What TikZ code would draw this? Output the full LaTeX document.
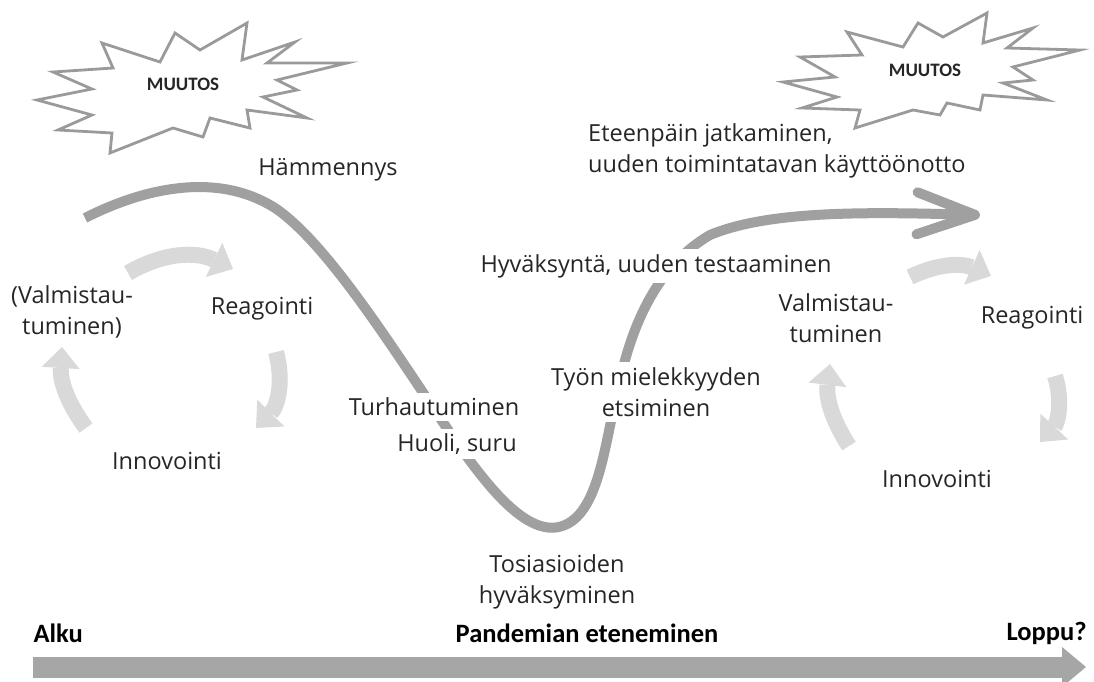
\documentclass[tikz,border=0pt]{standalone}
\usepackage{fontspec}
\setmainfont{Open Sans}
\newfontfamily\barfont{Carlito}
\usetikzlibrary{arrows.meta}
\definecolor{curvegray}{HTML}{A0A0A0}
\definecolor{cyclegray}{HTML}{D9D9D9}
\definecolor{bargray}{HTML}{A6A6A6}
\definecolor{burstgray}{HTML}{9A9A9A}
\definecolor{txt}{HTML}{262626}

\begin{document}
\begin{tikzpicture}[x=1pt,y=-1pt,
  lbl/.style={text=txt,font=\fontsize{23.5}{31}\selectfont,align=center,inner sep=2pt},
  cover/.style={lbl,fill=white,inner sep=5pt},
  cyc/.style={line width=16pt,draw=cyclegray,-{Triangle[length=21pt,width=38pt,line width=0pt]}},
  curve/.style={draw=curvegray,line width=10pt,-{Straight Barb[length=58pt,width=42pt,round]}},
  burst/.style={draw=burstgray,line width=2.8pt,fill=white,line join=miter},
  bang/.style={text=txt,font=\barfont\bfseries\fontsize{19}{22}\selectfont},
  bar/.style={text=black,font=\barfont\bfseries\fontsize{26.5}{30}\selectfont}]
  \useasboundingbox (0,0) rectangle (1094,682);

  \draw[burst] (37,100) -- (92,89) -- (53,72) -- (113,68) -- (102,43) -- (160,62)
    -- (175,33) -- (200,50) -- (247,23) -- (242,60) -- (295,42) -- (267,63)
    -- (347,63) -- (277,80) -- (297,90) -- (263,97) -- (307,118) -- (247,110)
    -- (250,128) -- (210,118) -- (203,137) -- (173,128) -- (110,153) -- (112,133)
    -- (58,130) -- (92,115) -- cycle;
  \node[bang] (muutos1) at (183,84) {MUUTOS};

  \draw[burst] (783,82) -- (835,77) -- (800,57) -- (862,55) -- (847,32) -- (903,47)
    -- (918,23) -- (943,37) -- (987,13) -- (983,43) -- (1033,28) -- (1007,48)
    -- (1080,50) -- (1013,67) -- (1033,80) -- (1003,83) -- (1047,100) -- (983,95)
    -- (980,110) -- (947,103) -- (940,115) -- (913,110) -- (855,128) -- (860,110)
    -- (802,108) -- (837,97) -- cycle;
  \node[bang] (muutos2) at (925,70) {MUUTOS};

  \coordinate (a1) at (128,273);
  \coordinate (b1) at (233,269);
  \coordinate (a2) at (276,352);
  \coordinate (b2) at (256,428);
  \coordinate (a3) at (86,428);
  \coordinate (b3) at (62,347);
  \draw[cyc] (a1) to[bend left=28] (b1);
  \draw[cyc] (a2) to[bend left=30] (b2);
  \draw[cyc] (a3) to[bend left=20] (b3);

  \coordinate (d1) at (910,277);
  \coordinate (e1) at (991,276);
  \coordinate (d2) at (1055,376);
  \coordinate (e2) at (1040,442);
  \coordinate (d3) at (849,446);
  \coordinate (e3) at (830,364);
  \draw[cyc] (d1) to[bend left=25] (e1);
  \draw[cyc] (d2) to[bend left=30] (e2);
  \draw[cyc] (d3) to[bend left=20] (e3);

  \draw[curve] (85,218) .. controls (140,190) and (215,170) .. (275,208)
    .. controls (330,245) and (400,360) .. (455,440)
    .. controls (490,490) and (530,540) .. (565,525)
    .. controls (600,510) and (605,440) .. (618,390)
    .. controls (628,340) and (650,270) .. (710,235)
    .. controls (770,210) and (870,212) .. (980,215);

  \node[lbl] (hamm) at (328,170) {Hämmennys};
  \node[lbl] (valm1) at (72,312) {(Valmistau-\\tuminen)};
  \node[lbl] (reag1) at (262,309) {Reagointi};
  \node[lbl] (inno1) at (167,461) {Innovointi};
  \node[cover] (turh) at (434,407) {Turhautuminen};
  \node[cover] (huoli) at (457,444) {Huoli, suru};
  \node[lbl] (tosi) at (557,582) {Tosiasioiden\\hyväksyminen};
  \node[cover] (tyon) at (656,392) {Työn mielekkyyden\\etsiminen};
  \node[cover] (hyvak) at (656,266) {Hyväksyntä, uuden testaaminen};
  \node[lbl,anchor=west,align=left] (eteen) at (586,151) {Eteenpäin jatkaminen,\\uuden toimintatavan käyttöönotto};
  \node[lbl] (valm2) at (836,318) {Valmistau-\\tuminen};
  \node[lbl] (reag2) at (1032,318) {Reagointi};
  \node[lbl] (inno2) at (937,479) {Innovointi};

  \node[bar,anchor=west] (alku) at (30,633) {Alku};
  \node[bar] (pand) at (587,633) {Pandemian eteneminen};
  \node[bar,anchor=east] (loppu) at (1090,633) {Loppu?};
  \coordinate (bar0) at (33,667);
  \coordinate (bar1) at (1086,667);
  \draw[line width=21pt,draw=bargray,-{Triangle[length=24pt,width=40pt,line width=0pt]}] (bar0) -- (bar1);
\end{tikzpicture}
\end{document}
